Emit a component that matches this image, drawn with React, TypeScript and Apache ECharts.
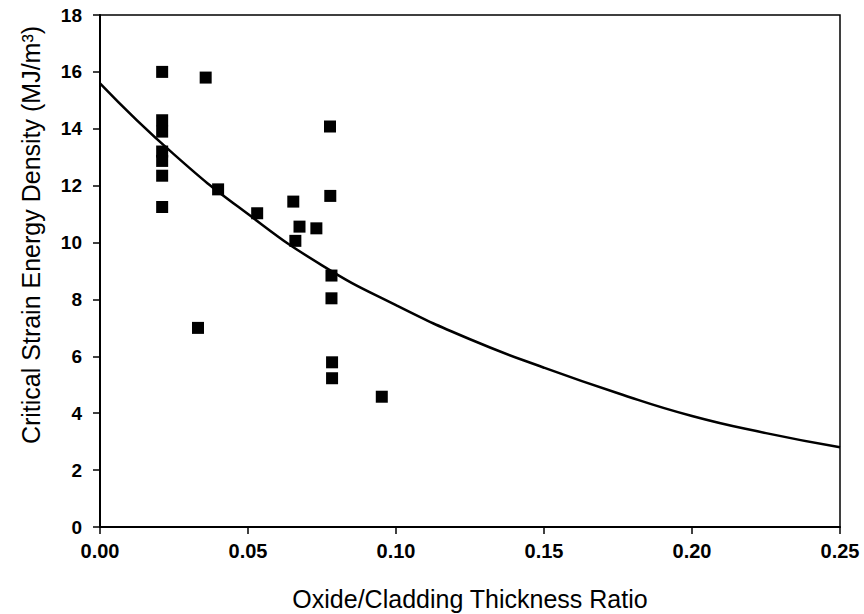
import React, { useEffect, useRef } from "react";
import * as echarts from "echarts";

const ratioData: number[] = [
  0.021, 0.021, 0.021, 0.021, 0.021, 0.021, 0.021,
  0.0357, 0.0331, 0.0399, 0.0531,
  0.0653, 0.066, 0.0674, 0.0731,
  0.0777, 0.0778, 0.0782, 0.0782, 0.0784, 0.0784, 0.0952,
];
const strainData: number[] = [
  16.0, 14.3, 13.9, 13.2, 12.87, 12.35, 11.25,
  15.8, 7.0, 11.87, 11.03,
  11.44, 10.06, 10.56, 10.5,
  14.08, 11.64, 8.84, 8.04, 5.79, 5.23, 4.58,
];
const fitX: number[] = [0, 0.025, 0.05, 0.075, 0.1, 0.125, 0.15, 0.175, 0.2, 0.225, 0.25];
const fitY: number[] = [15.6, 13.1, 11.0, 9.2, 7.8, 6.6, 5.6, 4.7, 3.9, 3.3, 2.8];
const xTicks: string[] = ["0.00", "0.05", "0.10", "0.15", "0.20", "0.25"];
const xTitle = "Oxide/Cladding Thickness Ratio";
const yTitle = "Critical Strain Energy Density (MJ/m³)";

export default function App() {
  const ref = useRef<HTMLDivElement>(null);
  useEffect(() => {
    if (!ref.current) return;
    const chart = echarts.init(ref.current, null, { renderer: "svg" });
    const font = "'Liberation Sans', Arial, sans-serif";
    chart.setOption({
      animation: false,
      backgroundColor: "#fff",
      grid: {
        left: 100,
        right: 24,
        top: 15,
        bottom: 87,
        outerBoundsMode: "none",
        containLabel: false,
        show: true,
        borderColor: "#000",
        borderWidth: 1.5,
      },
      graphic: [
        {
          type: "text",
          x: 31,
          y: 235,
          rotation: Math.PI / 2,
          style: {
            text: yTitle,
            fontFamily: font,
            fontSize: 25,
            fill: "#000",
            textAlign: "center",
            textVerticalAlign: "middle",
          },
        },
      ],
      xAxis: {
        type: "value",
        min: 0,
        max: 0.25,
        interval: 0.05,
        name: xTitle,
        nameLocation: "middle",
        nameGap: 59,
        nameTextStyle: { fontFamily: font, fontSize: 25, color: "#000" },
        axisLine: { lineStyle: { color: "#000", width: 2 } },
        axisTick: { inside: false, length: 7, lineStyle: { color: "#000", width: 1.5 } },
        splitLine: { show: false },
        axisLabel: {
          margin: 14,
          fontFamily: font,
          fontSize: 20,
          fontWeight: "bold",
          color: "#000",
          formatter: (v: number) => xTicks[Math.round(v / 0.05)] ?? "",
        },
      },
      yAxis: {
        type: "value",
        min: 0,
        max: 18,
        interval: 2,
        axisLine: { show: true, lineStyle: { color: "#000", width: 2 } },
        axisTick: { show: true, inside: false, length: 7, lineStyle: { color: "#000", width: 1.5 } },
        splitLine: { show: false },
        axisLabel: {
          margin: 18,
          fontFamily: font,
          fontSize: 19,
          fontWeight: "bold",
          color: "#000",
        },
      },
      series: [
        {
          type: "line",
          data: fitX.map((x, i) => [x, fitY[i]]),
          smooth: true,
          showSymbol: false,
          lineStyle: { color: "#000", width: 2.5 },
          z: 2,
        },
        {
          type: "scatter",
          data: ratioData.map((x, i) => [x, strainData[i]]),
          symbol: "rect",
          symbolSize: 12,
          itemStyle: { color: "#000", opacity: 1 },
          z: 3,
        },
      ],
    });
    return () => chart.dispose();
  }, []);
  return <div ref={ref} style={{ width: 864, height: 614, position: "absolute", left: 0, top: 0 }} />;
}
